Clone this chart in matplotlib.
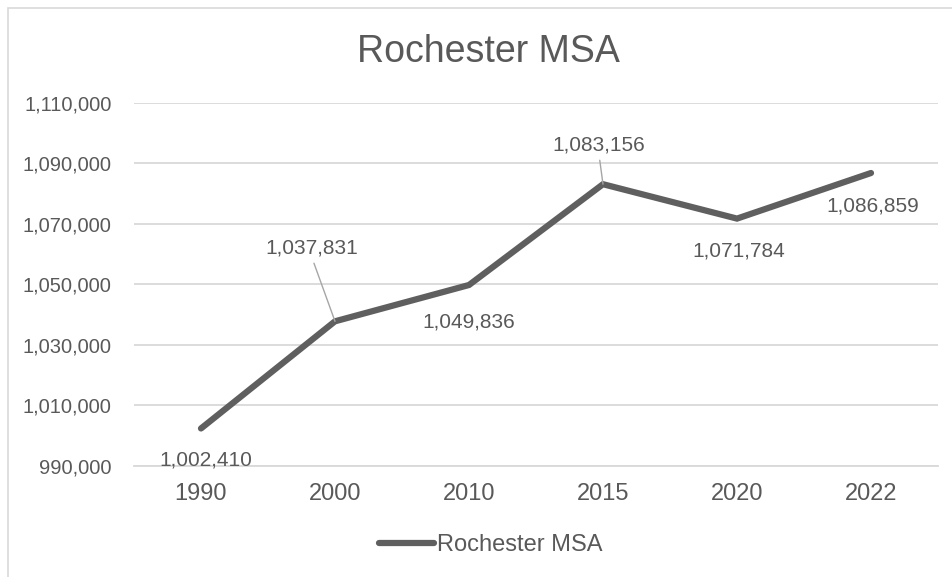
import matplotlib
matplotlib.use("Agg")
import matplotlib.pyplot as plt
import numpy as np
from matplotlib.patches import Rectangle
from matplotlib.ticker import FuncFormatter

plt.rcParams['font.family'] = ['Liberation Sans', 'DejaVu Sans']

years = ["1990", "2000", "2010", "2015", "2020", "2022"]
population = [1002410, 1037831, 1049836, 1083156, 1071784, 1086859]
series_name = "Rochester MSA"
title = "Rochester MSA"
y_min, y_max, y_step = 990000, 1110000, 20000

TEXT = '#595959'
LINE = '#5f5f5f'
GRID = '#d9d9d9'

W, H = 952, 577
fig = plt.figure(figsize=(W / 100, H / 100), dpi=100)
fig.patch.set_facecolor('white')

# chart border (cropped on right/bottom)
fig.add_artist(Rectangle((8 / W, -0.1), 1.2, 1 - 8 / H + 0.1, transform=fig.transFigure,
                         fill=False, edgecolor=GRID, linewidth=1.2, clip_on=False))

left, right = 134 / W, 938 / W
bottom, top = 1 - 466 / H, 1 - 103 / H
ax = fig.add_axes([left, bottom, right - left, top - bottom])

x = list(range(len(years)))
ax.plot(x, population, color=LINE, linewidth=4.5, solid_capstyle='round',
        solid_joinstyle='miter', label=series_name, zorder=3)

ax.set_xlim(-0.5, len(years) - 0.5)
ax.set_ylim(y_min, y_max)
ax.set_yticks(np.arange(y_min, y_max + 1, y_step))
ax.yaxis.set_major_formatter(FuncFormatter(lambda v, p: f"{int(v):,}"))
ax.set_xticks(x)
ax.set_xticklabels(years)
ax.grid(axis='y', color=GRID, linewidth=1.3)
ax.set_axisbelow(True)
for s in ['top', 'right', 'left']:
    ax.spines[s].set_visible(False)
ax.spines['bottom'].set_color(GRID)
ax.spines['bottom'].set_linewidth(1.3)
ax.tick_params(axis='both', length=0, colors=TEXT)
ax.tick_params(axis='x', labelsize=17, pad=12)
ax.tick_params(axis='y', labelsize=14.5, pad=16)

# data labels (offsets in pixels)
offsets = [(5, -32), (-23, 73), (0, -37), (-4, 39), (2, -32), (2, -33)]
leaders = [False, True, False, True, False, False]
for xi, yi, off, lead in zip(x, population, offsets, leaders):
    kw = {}
    if lead:
        kw['arrowprops'] = dict(arrowstyle='-', color='#a6a6a6', linewidth=1.0,
                                shrinkA=2, shrinkB=0, relpos=(0.5, 0.0))
    ax.annotate(f"{yi:,}", xy=(xi, yi), xytext=off, textcoords='offset pixels',
                ha='center', va='center', fontsize=15, color=TEXT, zorder=4, **kw)

fig.text(488 / W, 1 - 62 / H, title, ha='center', va='baseline', fontsize=27, color=TEXT)

handles, labels = ax.get_legend_handles_labels()
leg = fig.legend(handles, labels, loc='center', bbox_to_anchor=(491 / W, 1 - 545 / H),
                 frameon=False, fontsize=17, handlelength=2.3, handletextpad=0.15,
                 labelcolor=TEXT)

fig.savefig("out.png", dpi=100, facecolor='white')
